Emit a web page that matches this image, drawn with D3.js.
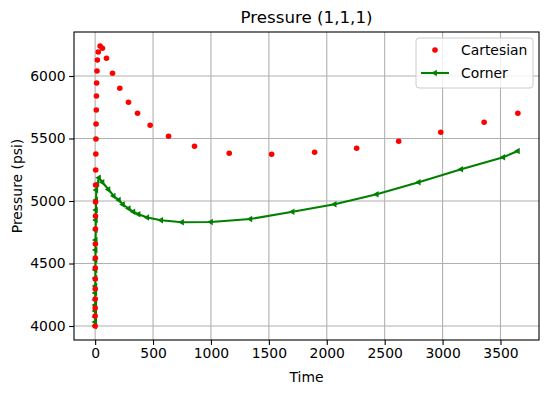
<!DOCTYPE html>
<html>
<head>
<meta charset="utf-8">
<script src="https://cdn.jsdelivr.net/npm/d3@7"></script>
<style>
  body { margin: 0; background: #fff; }
  svg { display: block; font-family: "DejaVu Sans", sans-serif; }
</style>
</head>
<body>
<div id="chart"></div>
<script>
var width = 549;
var height = 393;

// Cartesian grid result (red dots)
var cartTime = [0, 0.1, 0.2, 0.4, 0.6, 0.9, 1.2, 1.6, 2, 2.5, 3, 3.6, 4.3, 5, 6, 7, 8, 10, 11, 13, 16, 19, 27,
  43, 63, 98, 150, 213, 288, 366, 475, 634, 858, 1158, 1524, 1895, 2258, 2621, 2984, 3359, 3650];
var cartPressure = [4000, 4080, 4144, 4216, 4296, 4376, 4464, 4544, 4656, 4776, 4880, 4992, 5128, 5248, 5376, 5496, 5616, 5728, 5840, 5944, 6040, 6128, 6192,
  6240, 6222, 6142, 6022, 5902, 5790, 5702, 5606, 5518, 5438, 5382, 5374, 5390, 5422, 5478, 5550, 5630, 5702];

// Corner point grid result (green line)
var cornerTime = [0, 0.1, 0.2, 0.4, 0.6, 0.9, 1.2, 1.6, 2, 2.5, 3, 3.6, 4.3, 5, 6, 7, 8, 10, 19, 33,
  63, 115, 160, 205, 240, 290, 330, 375, 450, 570, 750, 1000, 1340, 1705, 2068, 2431, 2794, 3161, 3524, 3650];
var cornerPressure = [4000, 4032, 4072, 4120, 4168, 4208, 4264, 4320, 4384, 4448, 4528, 4608, 4688, 4768, 4848, 4928, 5008, 5088, 5136, 5186,
  5150, 5092, 5040, 5008, 4972, 4940, 4914, 4894, 4868, 4846, 4830, 4832, 4856, 4914, 4974, 5054, 5150, 5254, 5350, 5400];

var xTicks = [0, 500, 1000, 1500, 2000, 2500, 3000, 3500];
var yTicks = [4000, 4500, 5000, 5500, 6000];

var margin = { left: 74, right: 10, top: 32, bottom: 53 };

var cart = cartTime.map(function(t, i) { return { t: t, p: cartPressure[i] }; });
var corner = cornerTime.map(function(t, i) { return { t: t, p: cornerPressure[i] }; });

// matplotlib style 5% margins
function pad(ext) {
  var d = (ext[1] - ext[0]) * 0.05;
  return [ext[0] - d, ext[1] + d];
}
var xExt = d3.extent(cartTime.concat(cornerTime));
var yExt = d3.extent(cartPressure.concat(cornerPressure));

var x = d3.scaleLinear().domain(pad(xExt)).range([margin.left, width - margin.right]);
var y = d3.scaleLinear().domain(pad(yExt)).range([height - margin.bottom, margin.top]);

var svg = d3.select("#chart").append("svg")
  .attr("width", width)
  .attr("height", height);

var fontSize = 13.9;

// grid
svg.append("g").selectAll("line").data(xTicks).enter().append("line")
  .attr("x1", function(d) { return x(d); }).attr("x2", function(d) { return x(d); })
  .attr("y1", margin.top).attr("y2", height - margin.bottom)
  .attr("stroke", "#b0b0b0").attr("stroke-width", 1.1);
svg.append("g").selectAll("line").data(yTicks).enter().append("line")
  .attr("y1", function(d) { return y(d); }).attr("y2", function(d) { return y(d); })
  .attr("x1", margin.left).attr("x2", width - margin.right)
  .attr("stroke", "#b0b0b0").attr("stroke-width", 1.1);

// axes
var xAxis = svg.append("g")
  .attr("transform", "translate(0," + (height - margin.bottom) + ")")
  .call(d3.axisBottom(x).tickValues(xTicks).tickFormat(d3.format("d"))
    .tickSize(4.9).tickPadding(3.5).tickSizeOuter(0));
var yAxis = svg.append("g")
  .attr("transform", "translate(" + margin.left + ",0)")
  .call(d3.axisLeft(y).tickValues(yTicks).tickFormat(d3.format("d"))
    .tickSize(4.9).tickPadding(3.5).tickSizeOuter(0));
[xAxis, yAxis].forEach(function(a) {
  a.select(".domain").remove();
  a.selectAll("text").attr("font-size", fontSize).attr("font-family", "DejaVu Sans").attr("fill", "#000");
  a.selectAll("line").attr("stroke", "#000").attr("stroke-width", 1.1);
});

// corner line
var line = d3.line().x(function(d) { return x(d.t); }).y(function(d) { return y(d.p); });
svg.append("path").datum(corner)
  .attr("d", line)
  .attr("fill", "none")
  .attr("stroke", "#008000")
  .attr("stroke-width", 2.1);

var tri = d3.symbol().type(d3.symbolTriangle).size(18);
svg.append("g").selectAll("path").data(corner).enter().append("path")
  .attr("d", tri)
  .attr("transform", function(d) { return "translate(" + x(d.t) + "," + y(d.p) + ") rotate(-90)"; })
  .attr("fill", "#008000");

// cartesian dots
svg.append("g").selectAll("circle").data(cart).enter().append("circle")
  .attr("cx", function(d) { return x(d.t); })
  .attr("cy", function(d) { return y(d.p); })
  .attr("r", 2.8)
  .attr("fill", "#ff0000");

// frame
svg.append("rect")
  .attr("x", margin.left).attr("y", margin.top)
  .attr("width", width - margin.left - margin.right)
  .attr("height", height - margin.top - margin.bottom)
  .attr("fill", "none").attr("stroke", "#000").attr("stroke-width", 1.1);

// title and labels
svg.append("text")
  .attr("x", (margin.left + width - margin.right) / 2).attr("y", 23)
  .attr("text-anchor", "middle").attr("font-size", 16.7)
  .text("Pressure (1,1,1)");
svg.append("text")
  .attr("x", (margin.left + width - margin.right) / 2).attr("y", 382)
  .attr("text-anchor", "middle").attr("font-size", fontSize)
  .text("Time");
svg.append("text")
  .attr("transform", "translate(22," + (margin.top + height - margin.bottom) / 2 + ") rotate(-90)")
  .attr("text-anchor", "middle").attr("font-size", fontSize)
  .text("Pressure (psi)");

// legend
var lg = svg.append("g").attr("transform", "translate(416,38)");
lg.append("rect")
  .attr("width", 117).attr("height", 50).attr("rx", 3)
  .attr("fill", "#fff").attr("fill-opacity", 0.8)
  .attr("stroke", "#cccccc").attr("stroke-width", 1);
lg.append("circle").attr("cx", 19).attr("cy", 12).attr("r", 2.8).attr("fill", "#ff0000");
lg.append("text").attr("x", 45).attr("y", 17).attr("font-size", fontSize).text("Cartesian");
lg.append("line").attr("x1", 5).attr("x2", 33).attr("y1", 35).attr("y2", 35)
  .attr("stroke", "#008000").attr("stroke-width", 2.1);
lg.append("path").attr("d", tri).attr("transform", "translate(19,35) rotate(-90)").attr("fill", "#008000");
lg.append("text").attr("x", 45).attr("y", 40).attr("font-size", fontSize).text("Corner");
</script>
</body>
</html>
